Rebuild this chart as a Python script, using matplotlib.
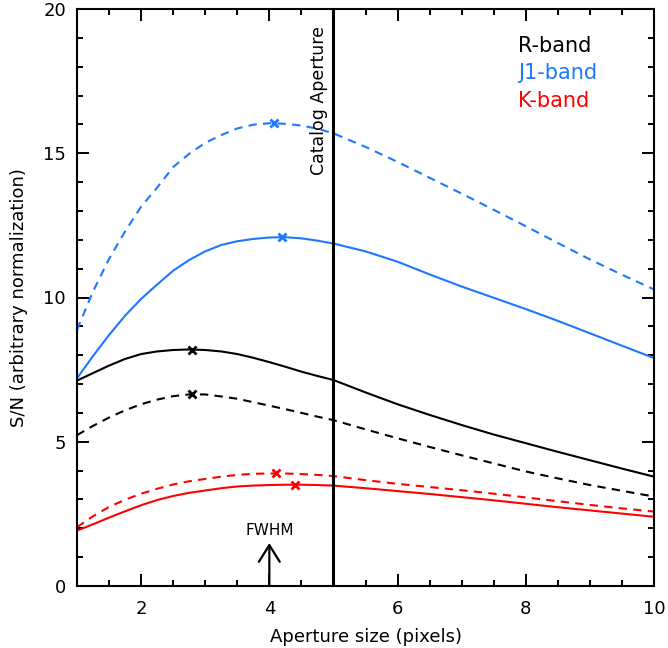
import matplotlib
matplotlib.use("Agg")
import matplotlib.pyplot as plt

# Aperture sizes (pixels)
aperture = [1, 1.25, 1.5, 1.75, 2, 2.25, 2.5, 2.75, 3, 3.25, 3.5, 3.75, 4, 4.25, 4.5, 4.75, 5,
            5.5, 6, 6.5, 7, 7.5, 8, 8.5, 9, 9.5, 10]

j1_dashed = [8.88, 10.21, 11.34, 12.29, 13.15, 13.81, 14.52, 14.98, 15.36, 15.63, 15.86, 15.99,
             16.04, 16.02, 15.96, 15.85, 15.69,
             15.22, 14.7, 14.15, 13.6, 13.04, 12.47, 11.89, 11.32, 10.79, 10.28]
j1_solid = [7.2, 7.97, 8.7, 9.37, 9.95, 10.45, 10.93, 11.3, 11.6, 11.82, 11.95, 12.03,
            12.08, 12.09, 12.05, 11.97, 11.87,
            11.6, 11.24, 10.8, 10.38, 9.99, 9.6, 9.19, 8.76, 8.33, 7.9]
r_solid = [7.12, 7.38, 7.64, 7.87, 8.04, 8.13, 8.18, 8.2, 8.18, 8.13, 8.04, 7.91,
           7.76, 7.6, 7.43, 7.28, 7.14,
           6.71, 6.3, 5.93, 5.58, 5.25, 4.95, 4.65, 4.36, 4.07, 3.79]
r_dashed = [5.23, 5.55, 5.84, 6.09, 6.3, 6.46, 6.58, 6.64, 6.64, 6.57, 6.49, 6.37,
            6.25, 6.13, 6.0, 5.87, 5.75,
            5.43, 5.12, 4.82, 4.53, 4.25, 3.97, 3.73, 3.5, 3.3, 3.1]
k_dashed = [2.04, 2.42, 2.74, 2.99, 3.2, 3.37, 3.52, 3.63, 3.71, 3.79, 3.85, 3.89,
            3.9, 3.9, 3.88, 3.85, 3.81,
            3.67, 3.54, 3.43, 3.32, 3.2, 3.07, 2.94, 2.81, 2.69, 2.58]
k_solid = [1.92, 2.14, 2.37, 2.59, 2.8, 2.98, 3.12, 3.23, 3.31, 3.39, 3.45, 3.48,
           3.5, 3.51, 3.51, 3.5, 3.48,
           3.39, 3.29, 3.19, 3.08, 2.97, 2.85, 2.73, 2.62, 2.51, 2.40]

# Peak markers (x, y)
peak_x = [4.08, 4.2, 2.8, 2.8, 4.1, 4.4]
peak_y = [16.04, 12.09, 8.18, 6.65, 3.91, 3.51]

catalog_aperture = 5
fwhm = 4

BLUE = "#1e78ff"
RED = "#ff0000"
BLACK = "#000000"

plt.rcParams['font.family'] = ['DejaVu Sans']

fig = plt.figure(figsize=(6.68, 6.48), dpi=100)
ax = fig.add_axes([77/668, 62/648, 577/668, 577/648])

lw = 1.5
dash = (0, (4, 3))
series = [
    (j1_dashed, BLUE, dash),
    (j1_solid, BLUE, '-'),
    (r_solid, BLACK, '-'),
    (r_dashed, BLACK, dash),
    (k_dashed, RED, dash),
    (k_solid, RED, '-'),
]
for (vals, col, ls), px, py in zip(series, peak_x, peak_y):
    ax.plot(aperture, vals, color=col, ls=ls, lw=lw)
    ax.plot([px], [py], marker='x', color=col, ms=6, mew=2, ls='none')

ax.axvline(catalog_aperture, color='black', lw=2.2)
ax.text(catalog_aperture - 0.08, 19.4, "Catalog Aperture", rotation=90,
        ha='right', va='top', fontsize=12.5)

# FWHM arrow
ax.annotate("", xy=(fwhm, 1.49), xytext=(fwhm, 0),
            arrowprops=dict(arrowstyle='->,head_length=1.2,head_width=0.75',
                            color='black', lw=1.6, shrinkA=0, shrinkB=0))
ax.text(fwhm, 1.78, "FWHM", ha='center', va='baseline', fontsize=11)

# Legend text
ax.text(0.765, 0.925, "R-band", transform=ax.transAxes, color=BLACK, fontsize=15, va='baseline')
ax.text(0.765, 0.878, "J1-band", transform=ax.transAxes, color=BLUE, fontsize=15, va='baseline')
ax.text(0.765, 0.831, "K-band", transform=ax.transAxes, color=RED, fontsize=15, va='baseline')

ax.set_xlim(1, 10)
ax.set_ylim(0, 20)
ax.set_xticks([2, 4, 6, 8, 10])
ax.set_xticks([1.5 + 0.5 * i for i in range(18)], minor=True)
ax.set_yticks([0, 5, 10, 15, 20])
ax.set_yticks(range(0, 21), minor=True)
ax.tick_params(which='both', direction='in', top=True, right=True, width=1.4, labelsize=13)
ax.tick_params(which='major', length=8.5, pad=8)
ax.tick_params(axis='x', which='major', pad=10)
ax.tick_params(which='minor', length=4.3)
for s in ax.spines.values():
    s.set_linewidth(1.5)

ax.set_xlabel("Aperture size (pixels)", fontsize=13, labelpad=7)
ax.set_ylabel("S/N (arbitrary normalization)", fontsize=13, labelpad=11)

fig.savefig("out.png", dpi=100)
